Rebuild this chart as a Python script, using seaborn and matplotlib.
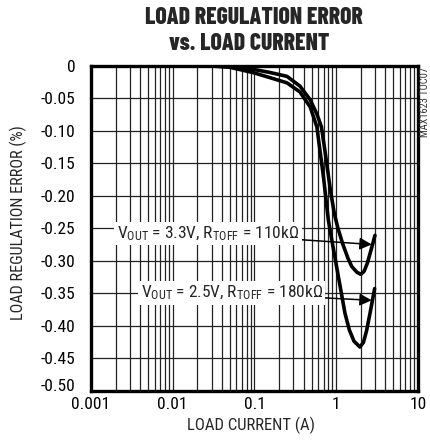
import numpy as np
import pandas as pd
import matplotlib
matplotlib.use("Agg")
import matplotlib.pyplot as plt
from matplotlib.ticker import LogLocator, FixedLocator, FixedFormatter, NullFormatter
import seaborn as sns

# Curve: VOUT = 3.3V, RTOFF = 110k
load_a = [0.001, 0.01, 0.03, 0.05, 0.095, 0.155, 0.25, 0.36, 0.48, 0.58, 0.66, 0.75, 0.85, 0.95,
          1.05, 1.2, 1.4, 1.55, 1.8, 2.0, 2.2, 2.4, 2.7, 2.98]
err_a = [0.0, 0.0, 0.0, -0.001, -0.005, -0.010, -0.016, -0.031, -0.052, -0.074, -0.094, -0.142,
         -0.192, -0.228, -0.250, -0.274, -0.297, -0.309, -0.318, -0.321, -0.316, -0.304, -0.281, -0.261]

# Curve: VOUT = 2.5V, RTOFF = 180k
load_b = [0.001, 0.01, 0.03, 0.05, 0.095, 0.155, 0.25, 0.36, 0.48, 0.58, 0.7, 0.8, 0.9, 1.0, 1.1,
          1.28, 1.45, 1.65, 1.95, 2.15, 2.35, 2.6, 2.95]
err_b = [0.0, 0.0, 0.0, -0.002, -0.010, -0.018, -0.026, -0.040, -0.063, -0.094, -0.172, -0.237,
         -0.274, -0.306, -0.335, -0.381, -0.407, -0.424, -0.433, -0.426, -0.408, -0.380, -0.343]

x_ticks = [0.001, 0.01, 0.1, 1, 10]
x_tick_labels = ["0.001", "0.01", "0.1", "1", "10"]
y_ticks = [0, -0.05, -0.10, -0.15, -0.20, -0.25, -0.30, -0.35, -0.40, -0.45, -0.50]
y_tick_labels = ["0", "-0.05", "-0.10", "-0.15", "-0.20", "-0.25", "-0.30", "-0.35", "-0.40", "-0.45", "-0.50"]

label_a = r"V$_{\mathregular{OUT}}$ = 3.3V, R$_{\mathregular{TOFF}}$ = 110k$\Omega$"
label_b = r"V$_{\mathregular{OUT}}$ = 2.5V, R$_{\mathregular{TOFF}}$ = 180k$\Omega$"

sns.set_style("white")
narrow = ['Roboto Condensed', 'Liberation Sans', 'DejaVu Sans']
plt.rcParams['font.family'] = narrow
plt.rcParams['mathtext.fontset'] = 'custom'
plt.rcParams['mathtext.rm'] = 'Roboto Condensed'
plt.rcParams['mathtext.it'] = 'Roboto Condensed'
plt.rcParams['mathtext.bf'] = 'Roboto Condensed:bold'

fig = plt.figure(figsize=(4.3, 4.48), dpi=100)
ax = fig.add_axes([0.2116, 0.1283, 0.7604, 0.7244])

df_a = pd.DataFrame({'load': load_a, 'err': err_a})
df_b = pd.DataFrame({'load': load_b, 'err': err_b})
sns.lineplot(data=df_a, x='load', y='err', ax=ax, color='black', lw=2.6, sort=False, zorder=5)
sns.lineplot(data=df_b, x='load', y='err', ax=ax, color='black', lw=2.6, sort=False, zorder=5)

ax.set_xscale('log')
ax.set_xlim(0.001, 10)
ax.set_ylim(-0.5, 0)

# grid on every log minor step and every 0.05
ax.xaxis.set_major_locator(FixedLocator(x_ticks))
ax.xaxis.set_major_formatter(FixedFormatter(x_tick_labels))
ax.xaxis.set_minor_locator(LogLocator(base=10, subs=np.arange(2, 10), numticks=20))
ax.xaxis.set_minor_formatter(NullFormatter())
ax.yaxis.set_major_locator(FixedLocator(y_ticks))
ax.yaxis.set_major_formatter(FixedFormatter(y_tick_labels))
ax.grid(which='both', axis='x', color='#222222', lw=0.9)
ax.grid(which='major', axis='y', color='#222222', lw=0.9)
ax.tick_params(which='both', length=0, labelsize=12.5, colors='black')
ax.tick_params(axis='y', pad=11)
ax.tick_params(axis='x', pad=5)
ax.get_yticklabels()[-1].set_va('baseline')

for s in ax.spines.values():
    s.set_visible(True)
    s.set_color('black')
    s.set_linewidth(2.4)
    s.set_zorder(10)

ax.set_xlabel("LOAD CURRENT (A)", fontsize=12)
ax.set_ylabel("LOAD REGULATION ERROR (%)", fontsize=11.6)
ax.xaxis.set_label_coords(0.49, -0.08)
ax.yaxis.set_label_coords(-0.195, 0.518)

title_font = ['Barlow Condensed', 'Roboto Condensed', 'DejaVu Sans']
fig.text(0.591, 0.96, "LOAD REGULATION ERROR", ha='center', va='center',
         fontsize=17, fontweight=800, family=title_font)
fig.text(0.580, 0.901, "vs. LOAD CURRENT", ha='center', va='center',
         fontsize=17, fontweight=800, family=title_font)
fig.text(0.988, 0.772, "MAX1623 TOC07", rotation=90, ha='center', va='center',
         fontsize=7.5, color='#333333')

box = dict(boxstyle='square,pad=0.15', fc='white', ec='none')
arrow = dict(arrowstyle='-|>', color='black', lw=1.1, mutation_scale=18, shrinkA=0, shrinkB=0)
ax.annotate(label_a, xy=(2.72, -0.275), xytext=(0.027, -0.258), ha='center', va='center',
            fontsize=12.5, bbox=box, arrowprops=arrow, zorder=6)
ax.annotate(label_b, xy=(2.72, -0.361), xytext=(0.0524, -0.35), ha='center', va='center',
            fontsize=12.5, bbox=box, arrowprops=arrow, zorder=6)

fig.savefig("out.png", dpi=100)
